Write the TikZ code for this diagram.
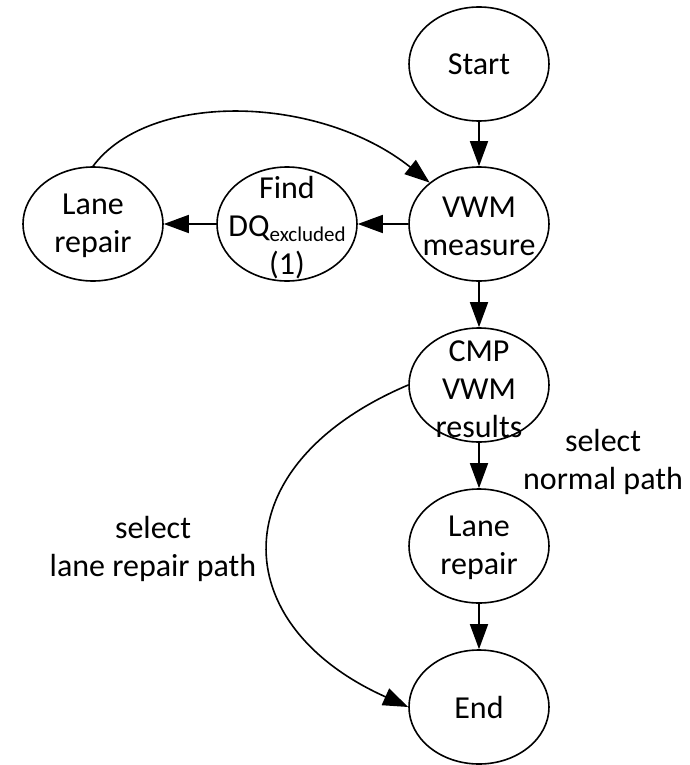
\documentclass[tikz,border=0pt]{standalone}
\usepackage{fontspec}
\setmainfont{Carlito}
\usetikzlibrary{shapes.geometric,arrows.meta}
\begin{document}
\begin{tikzpicture}[x=1pt,y=-1pt,
  state/.style={ellipse, draw, line width=1.6pt, minimum width=140pt, minimum height=114pt, inner sep=0pt},
  txt/.style={align=center, font=\fontsize{32}{38}\selectfont, inner sep=0pt},
  flow/.style={line width=1.6pt, -{Triangle[length=25pt,width=18pt]}},
]
\useasboundingbox (0,0) rectangle (689,765);

% states
\node[state] (start) at (479,64) {};
\node[state] (vwm)   at (479,224) {};
\node[state] (find)  at (287,224) {};
\node[state] (laneL) at (93,224) {};
\node[state] (cmp)   at (479,385) {};
\node[state] (laneB) at (479,546) {};
\node[state] (end)   at (479,707) {};

% state texts
\node[txt] (startT) at (start) {Start};
\node[txt] (vwmT)   at (479,226) {VWM\\measure};
\node[txt] (findT)  at (287,228) {Find\\DQ\raisebox{-5pt}{\fontsize{21}{21}\selectfont excluded}\\(1)};
\node[txt] (laneLT) at (93,226) {Lane\\repair};
\node[txt] (cmpT)   at (479,389) {CMP\\VWM\\results};
\node[txt] (laneBT) at (479,548) {Lane\\repair};
\node[txt] (endT)   at (end) {End};

% flow arrows
\draw[flow] (start) -- (vwm);
\draw[flow] (vwm) -- (find);
\draw[flow] (find) -- (laneL);
\draw[flow] (laneL.north) .. controls (150,90) and (320,95) .. (vwm.140);
\draw[flow] (vwm) -- (cmp);
\draw[flow] (cmp) -- (laneB);
\draw[flow] (laneB) -- (end);
\draw[flow] (cmp.west) .. controls (220,465) and (225,625) .. (end.west);

% branch labels
\node[txt] (normalL) at (603,462) {select\\normal path};
\node[txt] (repairL) at (153,549) {select\\lane repair path};
\end{tikzpicture}
\end{document}
